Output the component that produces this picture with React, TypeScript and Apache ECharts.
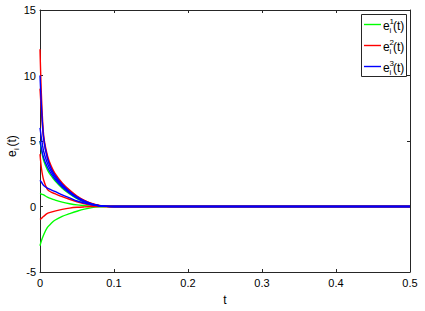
import React, { useEffect, useRef } from "react";
import * as echarts from "echarts";

const T = [0, 0.002, 0.005, 0.01, 0.015, 0.02, 0.03, 0.04, 0.05, 0.06, 0.07, 0.08, 0.09, 0.1, 0.5];

// component 1 (green)
const g5 = [5, 4.3, 3.5, 2.8, 2.35, 1.98, 1.4, 0.96, 0.6, 0.34, 0.16, 0.05, 0.01, 0, 0];
const g1 = [1, 0.95, 0.88, 0.72, 0.6, 0.5, 0.33, 0.21, 0.12, 0.07, 0.03, 0.01, 0, 0, 0];
const gm3 = [-3, -2.6, -2.15, -1.6, -1.3, -1.05, -0.75, -0.55, -0.36, -0.2, -0.09, -0.03, -0.005, 0, 0];
// component 2 (red)
const r12 = [12, 8.4, 5.4, 3.9, 3.1, 2.55, 1.8, 1.25, 0.8, 0.47, 0.23, 0.09, 0.02, 0, 0];
const r9 = [9, 7.2, 5.1, 3.7, 2.95, 2.45, 1.72, 1.2, 0.76, 0.44, 0.21, 0.08, 0.02, 0, 0];
const r4 = [4, 2.9, 2.0, 1.3, 1.1, 0.98, 0.75, 0.55, 0.36, 0.21, 0.1, 0.03, 0.005, 0, 0];
const rm1 = [-1, -0.9, -0.75, -0.53, -0.43, -0.35, -0.22, -0.12, -0.06, -0.03, -0.01, 0, 0, 0, 0];
// component 3 (blue)
const b10 = [10, 7.6, 5.2, 3.7, 2.9, 2.4, 1.68, 1.15, 0.73, 0.42, 0.2, 0.07, 0.015, 0, 0];
const b6 = [6, 5.2, 4.2, 3.3, 2.7, 2.25, 1.58, 1.08, 0.68, 0.39, 0.18, 0.06, 0.01, 0, 0];
const b5 = [5, 4.4, 3.7, 3.0, 2.5, 2.1, 1.48, 1.01, 0.64, 0.36, 0.17, 0.06, 0.01, 0, 0];
const b2 = [2, 1.85, 1.6, 1.4, 1.27, 1.15, 0.88, 0.66, 0.42, 0.26, 0.13, 0.05, 0.01, 0, 0];

const legendNames = ["1", "2", "3"];
const colors = ["#00ff00", "#ff0000", "#0000ff"];
const groups = [
  [g5, g1, gm3],
  [r12, r9, r4, rm1],
  [b10, b6, b5, b2],
];

const FONT = "Liberation Sans, Arial, sans-serif";
const AX = "#262626";

export default function App() {
  const ref = useRef<HTMLDivElement>(null);
  useEffect(() => {
    if (!ref.current) return;
    const chart = echarts.init(ref.current, undefined, { renderer: "svg" });
    const series: any[] = [];
    groups.forEach((grp, gi) => {
      grp.forEach((vals) => {
        series.push({
          type: "line",
          name: legendNames[gi],
          data: T.map((t, i) => [t, vals[i]]),
          smooth: 0.3,
          showSymbol: false,
          lineStyle: { color: colors[gi], width: 1.4 },
          itemStyle: { color: colors[gi] },
        });
      });
    });

    const legendRows = [24.5, 45.5, 66.5];
    const legendChildren: any[] = [
      {
        type: "rect",
        shape: { x: 361.5, y: 14.5, width: 45, height: 62 },
        style: { fill: "#fff", stroke: AX, lineWidth: 1 },
      },
    ];
    legendRows.forEach((y, i) => {
      legendChildren.push(
        {
          type: "line",
          shape: { x1: 364, y1: y, x2: 381, y2: y },
          style: { stroke: colors[i], lineWidth: 1.4 },
        },
        {
          type: "text",
          x: 383,
          y: y + 1.5,
          style: { text: "e", font: `12px ${FONT}`, fill: "#000", verticalAlign: "middle" },
        },
        {
          type: "text",
          x: 389.5,
          y: y - 3.5,
          style: { text: legendNames[i], font: `8px ${FONT}`, fill: "#000", verticalAlign: "middle" },
        },
        {
          type: "text",
          x: 389.5,
          y: y + 5.5,
          style: { text: "i", font: `8px ${FONT}`, fill: "#000", verticalAlign: "middle" },
        },
        {
          type: "text",
          x: 393,
          y: y + 1.5,
          style: { text: "(t)", font: `12px ${FONT}`, fill: "#000", verticalAlign: "middle" },
        }
      );
    });

    const axisCommon = {
      axisLine: { show: true, onZero: false, lineStyle: { color: AX, width: 1 } },
      axisTick: { show: true, inside: true, length: 3, lineStyle: { color: AX } },
      splitLine: { show: false },
    };

    chart.setOption({
      animation: false,
      backgroundColor: "#fff",
      grid: { left: 40, right: 15, top: 10, bottom: 37, containLabel: false },
      xAxis: [
        {
          type: "value",
          min: 0,
          max: 0.5,
          interval: 0.1,
          ...axisCommon,
          axisLabel: { color: "#000", fontSize: 11, fontFamily: FONT, margin: 5 },
          name: "t",
          nameLocation: "middle",
          nameGap: 22,
          nameTextStyle: { color: "#000", fontSize: 12, fontFamily: FONT },
        },
        {
          type: "value",
          position: "top",
          min: 0,
          max: 0.5,
          interval: 0.1,
          ...axisCommon,
          axisLabel: { show: false },
        },
      ],
      yAxis: [
        {
          type: "value",
          min: -5,
          max: 15,
          interval: 5,
          ...axisCommon,
          axisLabel: { color: "#000", fontSize: 11, fontFamily: FONT, margin: 4 },
        },
        {
          type: "value",
          position: "right",
          min: -5,
          max: 15,
          interval: 5,
          ...axisCommon,
          axisLabel: { show: false },
        },
      ],
      series,
      graphic: [
        {
          type: "group",
          x: 12,
          y: 157,
          rotation: Math.PI / 2,
          children: [
            {
              type: "text",
              x: 0,
              y: 0,
              style: { text: "e", font: `12px ${FONT}`, fill: "#000", verticalAlign: "middle" },
            },
            {
              type: "text",
              x: 7,
              y: 4,
              style: { text: "i", font: `8px ${FONT}`, fill: "#000", verticalAlign: "middle" },
            },
            {
              type: "text",
              x: 10.5,
              y: 0,
              style: { text: "(t)", font: `12px ${FONT}`, fill: "#000", verticalAlign: "middle" },
            },
          ],
        },
        { type: "group", children: legendChildren },
      ],
    });
    return () => chart.dispose();
  }, []);
  return (
    <div
      ref={ref}
      style={{ position: "fixed", left: 0, top: 0, width: 425, height: 311, background: "#fff" }}
    />
  );
}
